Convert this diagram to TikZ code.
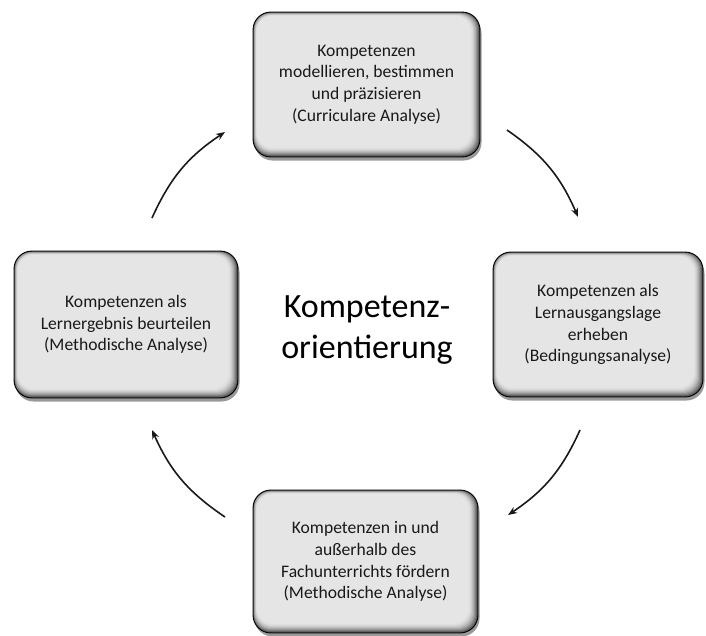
\documentclass[tikz,border=0pt]{standalone}
\usepackage{fontspec}
\setmainfont{Carlito}
\usetikzlibrary{arrows.meta,shadows}
\tikzset{
  boxnode/.style={draw=black, line width=0.9pt, rounded corners=18pt,
    align=center, inner sep=0pt, text=black!90,
    font=\fontsize{17.6}{21.8}\selectfont,
    fill=black!10,
    drop shadow={shadow xshift=1.5pt, shadow yshift=-3.5pt, fill=black, opacity=0.4},
    path picture={
      \foreach \i in {0,...,10}{
        \pgfmathsetmacro\c{10+65*(1-\i/10)^2}
        \pgfmathsetmacro\a{0.4*\i}
        \pgfmathsetmacro\b{1.0*\i}
        \fill[black!\c, rounded corners=16pt]
          ([shift={(\a pt,-\a pt)}]path picture bounding box.north west)
          rectangle
          ([shift={(-\b pt,\b pt)}]path picture bounding box.south east);
      }
    }},
  cyc/.style={line width=1.6pt, black!90, -{Stealth[length=9pt,width=7pt]}, bend left=16}
}
\begin{document}
\begin{tikzpicture}[x=1pt,y=-1pt]
\useasboundingbox (0,0) rectangle (706,635);
\node[boxnode, minimum width=227pt, minimum height=145pt] (top) at (366.5,84.5)
  {Kompetenzen\\modellieren, bestimmen\\und präzisieren\\(Curriculare Analyse)};
\node[boxnode, minimum width=210pt, minimum height=145pt] (right) at (598,324.5)
  {Kompetenzen als\\Lernausgangslage\\erheben\\(Bedingungsanalyse)};
\node[boxnode, minimum width=224pt, minimum height=147pt] (left) at (126,324.5)
  {Kompetenzen als\\Lernergebnis beurteilen\\(Methodische Analyse)};
\node[boxnode, minimum width=225pt, minimum height=143pt] (bottom) at (365.5,561.5)
  {Kompetenzen in und\\außerhalb des\\Fachunterrichts fördern\\(Methodische Analyse)};
\node[align=center, font=\fontsize{34}{41}\selectfont, text=black] (center) at (367,330)
  {Kompetenz-\\orientierung};
\coordinate (a1s) at (152,218);
\coordinate (a1e) at (225,132);
\coordinate (a2s) at (507,130);
\coordinate (a2e) at (578,217);
\coordinate (a3s) at (580,430);
\coordinate (a3e) at (508,515);
\coordinate (a4s) at (225,517);
\coordinate (a4e) at (152,430);
\draw[cyc] (a1s) to (a1e);
\draw[cyc] (a2s) to (a2e);
\draw[cyc] (a3s) to (a3e);
\draw[cyc] (a4s) to (a4e);
\end{tikzpicture}
\end{document}
